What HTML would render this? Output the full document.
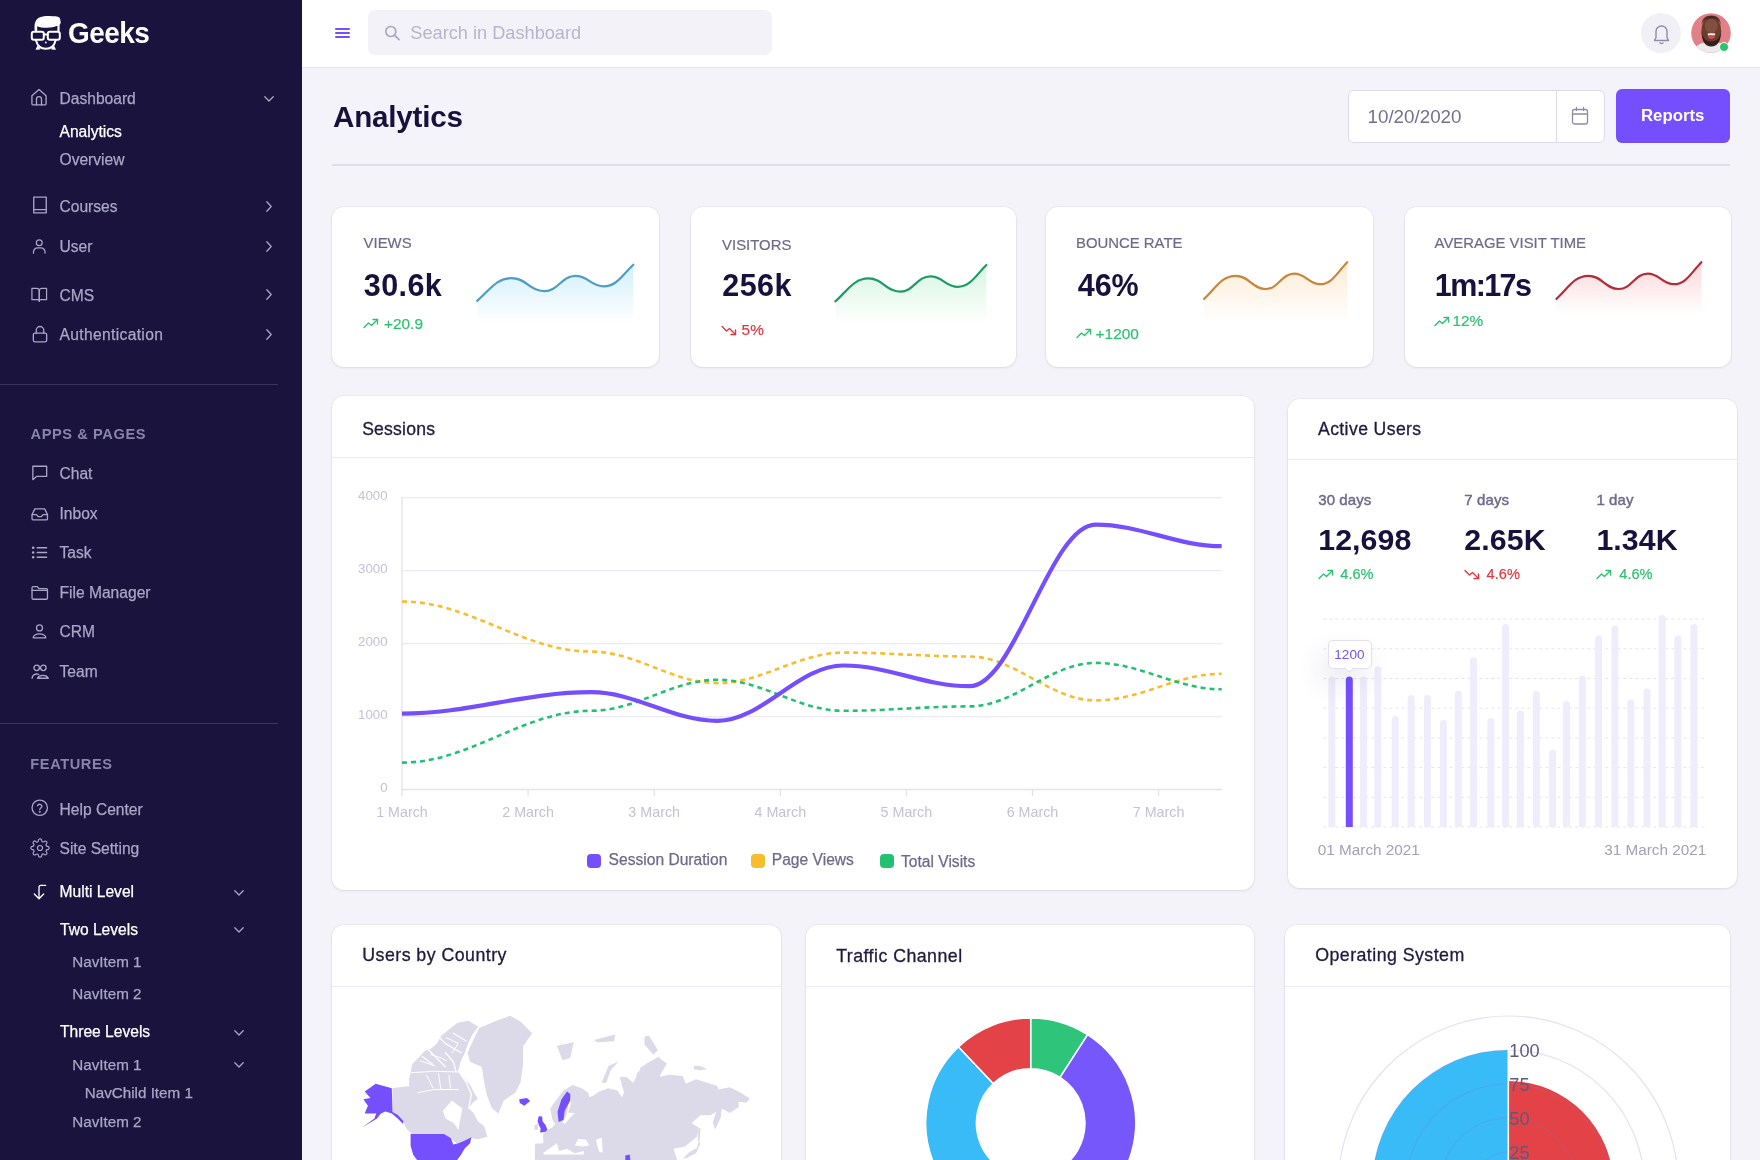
<!DOCTYPE html>
<html><head><meta charset="utf-8"><title>Geeks Analytics</title>
<style>
html,body{margin:0;padding:0;}
body{width:1760px;height:1160px;overflow:hidden;position:relative;background:#f4f3f9;font-family:"Liberation Sans",sans-serif;}
.t{position:absolute;white-space:nowrap;line-height:1;}
svg{display:block;}
</style></head><body>
<div id="main" style="position:absolute;left:0;top:0;width:1760px;height:1160px;overflow:hidden;will-change:transform;">
<div style="position:absolute;left:332.25px;top:924.80px;width:448.65px;height:275.20px;background:#fff;border-radius:12px;box-shadow:0 0 0 1px rgba(40,30,90,.045),0 1px 3px rgba(40,30,90,.08);"></div>
<div style="position:absolute;left:332.25px;top:985.60px;width:448.65px;height:1.00px;background:#eceaf4;"></div>
<div class="t" style="left:362.30px;top:946.83px;font-size:17.8px;color:#1f1a3e;font-weight:400;-webkit-text-stroke:0.3px #1f1a3e;letter-spacing:0.45px;">Users by Country</div>
<div style="position:absolute;left:805.80px;top:924.80px;width:447.80px;height:275.20px;background:#fff;border-radius:12px;box-shadow:0 0 0 1px rgba(40,30,90,.045),0 1px 3px rgba(40,30,90,.08);"></div>
<div style="position:absolute;left:805.80px;top:985.60px;width:447.80px;height:1.00px;background:#eceaf4;"></div>
<div class="t" style="left:836.20px;top:948.13px;font-size:17.8px;color:#1f1a3e;font-weight:400;-webkit-text-stroke:0.3px #1f1a3e;letter-spacing:0.45px;">Traffic Channel</div>
<div style="position:absolute;left:1285.30px;top:924.80px;width:444.60px;height:275.20px;background:#fff;border-radius:12px;box-shadow:0 0 0 1px rgba(40,30,90,.045),0 1px 3px rgba(40,30,90,.08);"></div>
<div style="position:absolute;left:1285.30px;top:985.60px;width:444.60px;height:1.00px;background:#eceaf4;"></div>
<div class="t" style="left:1315.20px;top:947.23px;font-size:17.8px;color:#1f1a3e;font-weight:400;-webkit-text-stroke:0.3px #1f1a3e;letter-spacing:0.45px;">Operating System</div>
<svg style="position:absolute;left:0;top:0;overflow:visible" width="1" height="1"><path d="M392.5,1088.2 L406.7,1086.3 L419.6,1088.9 L427.4,1092.7 L439.0,1094.0 L445.5,1092.7 L453.3,1087.6 L461.0,1086.3 L471.4,1090.2 L477.8,1097.9 L472.6,1103.1 L468.8,1108.3 L473.9,1113.4 L477.8,1121.2 L484.3,1126.4 L487.5,1136.7 L477.8,1139.3 L471.4,1138.0 L464.9,1141.9 L458.4,1144.5 L450.7,1139.3 L445.5,1134.1 L411.9,1134.1 L406.7,1128.9 L402.8,1121.2 L397.7,1114.7 L392.5,1112.1 Z" fill="#dcd9e8"/><path d="M410.7,1072.0 L412.3,1064.1 L418.6,1057.7 L424.2,1051.4 L431.4,1048.2 L436.9,1043.4 L440.9,1036.3 L446.5,1031.5 L457.6,1022.7 L468.8,1020.7 L478.3,1026.7 L472.7,1033.9 L468.0,1043.4 L464.8,1053.0 L460.8,1060.9 L458.4,1070.5 L462.4,1076.0 L471.1,1086.4 L477.5,1100.0 L409.1,1100.0 L409.1,1080.0 Z" fill="#dcd9e8"/><path d="M467.5,1052.7 L479.1,1028.1 L494.6,1021.6 L510.1,1015.8 L520.5,1021.6 L532.1,1033.3 L523.1,1046.2 L523.1,1064.3 L520.5,1082.4 L515.3,1092.7 L503.7,1100.5 L498.5,1113.4 L492.0,1108.3 L486.9,1095.3 L484.3,1082.4 L481.7,1066.9 L470.1,1061.7 Z" fill="#dcd9e8"/><path d="M442.9,1110.8 L452.0,1100.5 L458.4,1105.7 L462.3,1108.3 L461.0,1116.0 L459.7,1122.5 L458.4,1130.2 L454.5,1123.8 L445.5,1118.6 Z" fill="#fff"/><path d="M409.9,1072.8 L434.5,1071.3 L460.0,1072.0" fill="none" stroke="#fff" stroke-width="1.0" stroke-linecap="round" stroke-linejoin="round"/><path d="M417.8,1092.7 L434.5,1089.5 L458.4,1089.5" fill="none" stroke="#fff" stroke-width="1.0" stroke-linecap="round" stroke-linejoin="round"/><path d="M446.5,1037.8 L458.4,1043.4 L452.0,1053.0" fill="none" stroke="#fff" stroke-width="1.0" stroke-linecap="round" stroke-linejoin="round"/><path d="M430.6,1054.5 L440.9,1057.7 L446.5,1060.9" fill="none" stroke="#fff" stroke-width="1.0" stroke-linecap="round" stroke-linejoin="round"/><path d="M426.6,1075.2 L433.0,1088.0" fill="none" stroke="#fff" stroke-width="1.0" stroke-linecap="round" stroke-linejoin="round"/><path d="M438.5,1073.6 L440.9,1089.5" fill="none" stroke="#fff" stroke-width="1.0" stroke-linecap="round" stroke-linejoin="round"/><path d="M448.9,1075.2 L450.5,1088.0" fill="none" stroke="#fff" stroke-width="1.0" stroke-linecap="round" stroke-linejoin="round"/><path d="M420.2,1060.9 L434.5,1065.7" fill="none" stroke="#fff" stroke-width="1.0" stroke-linecap="round" stroke-linejoin="round"/><path d="M437.7,1035.9 L445.5,1043.6 L461.0,1052.7" fill="none" stroke="#fff" stroke-width="1.3" stroke-linecap="round" stroke-linejoin="round"/><path d="M427.4,1048.8 L435.2,1056.5 L445.5,1066.9" fill="none" stroke="#fff" stroke-width="1.3" stroke-linecap="round" stroke-linejoin="round"/><path d="M453.3,1033.3 L466.2,1041.0" fill="none" stroke="#fff" stroke-width="1.3" stroke-linecap="round" stroke-linejoin="round"/><path d="M458.4,1070.8 L466.2,1082.4 L471.4,1094.0 L468.8,1108.3" fill="none" stroke="#fff" stroke-width="1.3" stroke-linecap="round" stroke-linejoin="round"/><path d="M422.2,1056.5 L432.6,1064.3" fill="none" stroke="#fff" stroke-width="1.3" stroke-linecap="round" stroke-linejoin="round"/><path d="M445.5,1052.7 L453.3,1061.7 L455.8,1070.8" fill="none" stroke="#fff" stroke-width="1.3" stroke-linecap="round" stroke-linejoin="round"/><path d="M364.7,1091.4 L375.7,1083.7 L391.8,1088.2 L392.5,1112.1 L397.7,1114.7 L403.5,1121.2 L402.8,1123.8 L397.7,1118.6 L391.8,1113.4 L385.4,1111.5 L380.9,1113.4 L377.0,1118.6 L362.1,1127.6 L374.4,1118.6 L376.3,1113.4 L364.7,1113.4 L367.9,1105.7 L363.4,1099.2 L370.5,1097.9 Z" fill="#754ffe"/><path d="M519.2,1099.2 L526.9,1097.9 L530.2,1101.1 L524.4,1105.7 L519.8,1103.1 Z" fill="#754ffe"/><path d="M410.6,1134.1 L444.2,1134.1 L450.7,1138.0 L453.3,1144.5 L458.4,1143.2 L464.9,1140.6 L471.4,1137.3 L470.1,1143.2 L464.9,1148.3 L461.0,1154.8 L457.1,1160.0 L417.1,1160.0 L413.2,1154.8 L410.6,1145.7 Z" fill="#754ffe"/><path d="M535.0,1160.0 L535.0,1143.8 L543.4,1143.2 L542.9,1134.8 L546.8,1130.3 L552.4,1127.5 L555.2,1124.1 L552.4,1119.7 L550.2,1108.4 L555.8,1100.6 L563.6,1090.5 L572.6,1084.9 L581.6,1088.3 L588.3,1092.8 L589.4,1098.4 L584.9,1104.0 L582.7,1101.7 L588.3,1097.2 L592.8,1096.1 L599.5,1091.6 L608.4,1088.3 L617.4,1090.5 L621.9,1097.2 L624.1,1092.8 L619.7,1077.1 L626.4,1077.1 L633.1,1082.7 L635.3,1079.3 L637.6,1072.6 L646.6,1063.6 L660.0,1056.9 L660.0,1160.0 Z" fill="#dcd9e8"/><path d="M640.0,1068.1 L654.6,1059.1 L657.9,1056.9 L666.9,1063.6 L659.1,1077.1 L669.1,1074.8 L682.6,1075.9 L685.9,1083.8 L696.0,1079.3 L707.2,1082.7 L717.3,1086.0 L718.4,1089.4 L729.7,1087.2 L740.9,1092.8 L749.8,1098.4 L746.5,1102.8 L738.6,1101.7 L738.6,1107.3 L729.7,1112.9 L721.8,1108.4 L720.7,1117.4 L715.1,1129.7 L712.8,1121.9 L716.2,1111.8 L710.6,1115.2 L700.5,1115.2 L691.6,1123.0 L698.3,1127.5 L697.2,1136.5 L684.8,1146.6 L673.6,1148.8 L677.0,1160.0 L640.0,1160.0 Z" fill="#dcd9e8"/><path d="M682.6,1158.9 L689.3,1152.2 L697.2,1147.7 L698.3,1142.1 L700.5,1143.2 L696.0,1153.3 L687.1,1157.8 Z" fill="#dcd9e8"/><path d="M698.3,1127.5 L700.5,1128.6 L699.4,1142.1 L697.7,1140.9 Z" fill="#dcd9e8"/><path d="M644.5,1036.7 L649.0,1035.6 L657.9,1050.2 L653.4,1054.7 L644.5,1044.6 Z" fill="#dcd9e8"/><path d="M693.8,1065.9 L700.5,1065.9 L707.2,1069.2 L699.4,1070.3 L693.8,1069.2 Z" fill="#dcd9e8"/><path d="M601.7,1082.7 L608.4,1065.9 L618.5,1061.4 L610.7,1070.3 L606.2,1082.7 Z" fill="#dcd9e8"/><path d="M556.9,1045.7 L573.7,1042.3 L570.3,1058.0 L562.5,1060.3 Z" fill="#dcd9e8"/><path d="M593.9,1040.1 L615.2,1034.5 L614.1,1041.2 L597.2,1042.3 Z" fill="#dcd9e8"/><path d="M534.5,1125.3 L538.4,1124.1 L537.8,1129.7 L534.5,1129.7 Z" fill="#dcd9e8"/><path d="M568.7,1101.7 L570.6,1097.2 L571.2,1102.8 L568.1,1112.4 L574.8,1113.2 L571.5,1116.3 L564.7,1124.1 L562.5,1122.5 L567.0,1114.1 Z" fill="#fff"/><path d="M574.8,1145.4 L578.2,1138.7 L586.0,1139.8 L589.4,1145.4 L582.7,1146.6 Z" fill="#fff"/><path d="M596.1,1139.8 L601.7,1137.6 L602.8,1152.2 L599.5,1152.2 L597.2,1145.4 Z" fill="#fff"/><path d="M543.4,1152.7 L556.9,1143.2 L559.1,1151.0 L567.0,1148.8 L574.8,1153.3 L583.8,1151.0 L583.8,1154.6 L543.4,1154.6 Z" fill="#fff"/><path d="M538.7,1116.3 L542.1,1116.5 L542.6,1121.3 L545.7,1125.3 L547.4,1129.7 L545.1,1132.0 L540.1,1132.5 L540.6,1128.6 L539.0,1125.3 L537.6,1121.3 Z" fill="#754ffe"/><path d="M558.6,1121.9 L557.5,1111.8 L561.4,1099.5 L567.0,1091.6 L570.3,1093.9 L570.3,1100.6 L564.7,1110.7 L563.6,1119.7 Z" fill="#754ffe"/><path d="M625.3,1155.5 L629.7,1154.4 L630.3,1160.0 L625.3,1160.0 Z" fill="#754ffe"/></svg>
<svg style="position:absolute;left:0;top:0;overflow:visible" width="1" height="1"><path d="M1030.70,1018.00 A105,105 0 0 1 1087.58,1034.74 L1060.11,1077.36 A54.3,54.3 0 0 0 1030.70,1068.70 Z" fill="#2ec47a" stroke="#fff" stroke-width="1.5"/><path d="M1087.58,1034.74 A105,105 0 0 1 1030.70,1228.00 L1030.70,1177.30 A54.3,54.3 0 0 0 1060.11,1077.36 Z" fill="#7657fb" stroke="#fff" stroke-width="1.5"/><path d="M1030.70,1228.00 A105,105 0 0 1 958.42,1046.84 L993.32,1083.61 A54.3,54.3 0 0 0 1030.70,1177.30 Z" fill="#38bbf6" stroke="#fff" stroke-width="1.5"/><path d="M958.42,1046.84 A105,105 0 0 1 1030.70,1018.00 L1030.70,1068.70 A54.3,54.3 0 0 0 993.32,1083.61 Z" fill="#e34246" stroke="#fff" stroke-width="1.5"/></svg>
<svg style="position:absolute;left:0;top:0;overflow:visible" width="1" height="1"><path d="M1508.3,1186 L1372.30,1186.00 A136,136 0 0 1 1508.30,1050.00 Z" fill="#38bbf6"/><path d="M1508.3,1186 L1508.30,1081.00 A105,105 0 0 1 1613.30,1186.00 Z" fill="#e34246"/><circle cx="1508.3" cy="1186" r="34" fill="none" stroke="rgba(130,120,200,0.22)" stroke-width="1.2"/><circle cx="1508.3" cy="1186" r="68" fill="none" stroke="rgba(130,120,200,0.22)" stroke-width="1.2"/><circle cx="1508.3" cy="1186" r="102" fill="none" stroke="rgba(130,120,200,0.22)" stroke-width="1.2"/><circle cx="1508.3" cy="1186" r="136" fill="none" stroke="rgba(130,120,200,0.22)" stroke-width="1.2"/><circle cx="1508.3" cy="1186" r="170" fill="none" stroke="rgba(130,120,200,0.22)" stroke-width="1.2"/><path d="M1508.3,1186 V1040" stroke="#fff" stroke-width="1.6"/></svg>
<div class="t" style="left:1509.30px;top:1041.59px;font-size:18.2px;color:#5d5a7c;font-weight:400;">100</div>
<div class="t" style="left:1509.30px;top:1075.59px;font-size:18.2px;color:#5d5a7c;font-weight:400;">75</div>
<div class="t" style="left:1509.30px;top:1109.59px;font-size:18.2px;color:#5d5a7c;font-weight:400;">50</div>
<div class="t" style="left:1509.30px;top:1143.59px;font-size:18.2px;color:#5d5a7c;font-weight:400;">25</div>
<div style="position:absolute;left:332.30px;top:206.50px;width:326.70px;height:160.80px;background:#fff;border-radius:12px;box-shadow:0 0 0 1px rgba(40,30,90,.045),0 1px 3px rgba(40,30,90,.08);"></div>
<div class="t" style="left:363.60px;top:236.09px;font-size:14.9px;color:#6e6a8a;font-weight:400;-webkit-text-stroke:0.2px currentColor;">VIEWS</div>
<div class="t" style="left:363.80px;top:269.78px;font-size:30.5px;color:#18113c;font-weight:700;letter-spacing:0.4px;">30.6k</div>
<svg style="position:absolute;left:363.00px;top:318.40px;overflow:visible;" width="16.00" height="11.00" viewBox="0 0 16 11"><g fill="none" stroke="#2cc26f" stroke-width="1.4" stroke-linecap="round" stroke-linejoin="round"><path d="M1,9.5 L5.5,5 L8.5,7.5 L14.5,1.5"/><path d="M10,1.5 H14.5 V6"/></g></svg>
<div class="t" style="left:384.00px;top:315.86px;font-size:15.4px;color:#2cc26f;font-weight:400;-webkit-text-stroke:0.2px currentColor;">+20.9</div>
<svg style="position:absolute;left:0;top:0;overflow:visible" width="1" height="1"><defs><linearGradient id="sg0" gradientUnits="userSpaceOnUse" x1="0" y1="264.7" x2="0" y2="323.6"><stop offset="0" stop-color="#cdeefc" stop-opacity="0.9"/><stop offset="1" stop-color="#cdeefc" stop-opacity="0"/></linearGradient></defs>
<path d="M477.20,300.80 C489.22,290.85 496.09,278.06 511.54,278.06 C526.29,278.06 529.57,291.05 544.32,291.05 C558.37,291.05 561.49,275.89 575.54,275.89 C588.19,275.89 591.00,286.36 603.64,286.36 C616.99,286.36 622.92,274.18 633.30,264.70 L633.30,323.60 L477.20,323.60 Z" fill="url(#sg0)"/>
<path d="M477.20,300.80 C489.22,290.85 496.09,278.06 511.54,278.06 C526.29,278.06 529.57,291.05 544.32,291.05 C558.37,291.05 561.49,275.89 575.54,275.89 C588.19,275.89 591.00,286.36 603.64,286.36 C616.99,286.36 622.92,274.18 633.30,264.70" fill="none" stroke="#4d9dc5" stroke-width="2.2" stroke-linecap="round" stroke-linejoin="round"/></svg>
<div style="position:absolute;left:690.80px;top:206.50px;width:325.20px;height:160.80px;background:#fff;border-radius:12px;box-shadow:0 0 0 1px rgba(40,30,90,.045),0 1px 3px rgba(40,30,90,.08);"></div>
<div class="t" style="left:722.10px;top:237.59px;font-size:14.9px;color:#6e6a8a;font-weight:400;-webkit-text-stroke:0.2px currentColor;">VISITORS</div>
<div class="t" style="left:722.30px;top:269.78px;font-size:30.5px;color:#18113c;font-weight:700;letter-spacing:0.4px;">256k</div>
<svg style="position:absolute;left:721.30px;top:324.70px;overflow:visible;" width="16.00" height="11.00" viewBox="0 0 16 11"><g fill="none" stroke="#e0383e" stroke-width="1.4" stroke-linecap="round" stroke-linejoin="round"><path d="M1,1.5 L5.5,6 L8.5,3.5 L14.5,9.5"/><path d="M10,9.5 H14.5 V5"/></g></svg>
<div class="t" style="left:741.60px;top:322.16px;font-size:15.4px;color:#e0383e;font-weight:400;-webkit-text-stroke:0.2px currentColor;">5%</div>
<svg style="position:absolute;left:0;top:0;overflow:visible" width="1" height="1"><defs><linearGradient id="sg1" gradientUnits="userSpaceOnUse" x1="0" y1="265" x2="0" y2="323.6"><stop offset="0" stop-color="#d2f4de" stop-opacity="0.9"/><stop offset="1" stop-color="#d2f4de" stop-opacity="0"/></linearGradient></defs>
<path d="M835.30,301.40 C846.93,291.37 853.58,278.47 868.54,278.47 C882.82,278.47 885.99,291.57 900.27,291.57 C913.87,291.57 916.89,276.28 930.49,276.28 C942.73,276.28 945.45,286.84 957.69,286.84 C970.61,286.84 976.35,274.56 986.40,265.00 L986.40,323.60 L835.30,323.60 Z" fill="url(#sg1)"/>
<path d="M835.30,301.40 C846.93,291.37 853.58,278.47 868.54,278.47 C882.82,278.47 885.99,291.57 900.27,291.57 C913.87,291.57 916.89,276.28 930.49,276.28 C942.73,276.28 945.45,286.84 957.69,286.84 C970.61,286.84 976.35,274.56 986.40,265.00" fill="none" stroke="#1f9b6a" stroke-width="2.2" stroke-linecap="round" stroke-linejoin="round"/></svg>
<div style="position:absolute;left:1046.20px;top:206.50px;width:326.50px;height:160.80px;background:#fff;border-radius:12px;box-shadow:0 0 0 1px rgba(40,30,90,.045),0 1px 3px rgba(40,30,90,.08);"></div>
<div class="t" style="left:1076.00px;top:236.09px;font-size:14.9px;color:#6e6a8a;font-weight:400;-webkit-text-stroke:0.2px currentColor;">BOUNCE RATE</div>
<div class="t" style="left:1077.70px;top:269.78px;font-size:30.5px;color:#18113c;font-weight:700;letter-spacing:0;">46%</div>
<svg style="position:absolute;left:1075.70px;top:328.20px;overflow:visible;" width="16.00" height="11.00" viewBox="0 0 16 11"><g fill="none" stroke="#2cc26f" stroke-width="1.4" stroke-linecap="round" stroke-linejoin="round"><path d="M1,9.5 L5.5,5 L8.5,7.5 L14.5,1.5"/><path d="M10,1.5 H14.5 V6"/></g></svg>
<div class="t" style="left:1095.60px;top:325.66px;font-size:15.4px;color:#2cc26f;font-weight:400;-webkit-text-stroke:0.2px currentColor;">+1200</div>
<svg style="position:absolute;left:0;top:0;overflow:visible" width="1" height="1"><defs><linearGradient id="sg2" gradientUnits="userSpaceOnUse" x1="0" y1="262.2" x2="0" y2="322.7"><stop offset="0" stop-color="#fde9cf" stop-opacity="0.9"/><stop offset="1" stop-color="#fde9cf" stop-opacity="0"/></linearGradient></defs>
<path d="M1204.20,298.90 C1215.21,288.78 1221.50,275.78 1235.66,275.78 C1249.17,275.78 1252.18,288.99 1265.69,288.99 C1278.56,288.99 1281.42,273.58 1294.29,273.58 C1305.87,273.58 1308.45,284.22 1320.03,284.22 C1332.26,284.22 1337.69,271.83 1347.20,262.20 L1347.20,322.70 L1204.20,322.70 Z" fill="url(#sg2)"/>
<path d="M1204.20,298.90 C1215.21,288.78 1221.50,275.78 1235.66,275.78 C1249.17,275.78 1252.18,288.99 1265.69,288.99 C1278.56,288.99 1281.42,273.58 1294.29,273.58 C1305.87,273.58 1308.45,284.22 1320.03,284.22 C1332.26,284.22 1337.69,271.83 1347.20,262.20" fill="none" stroke="#c8863a" stroke-width="2.2" stroke-linecap="round" stroke-linejoin="round"/></svg>
<div style="position:absolute;left:1404.80px;top:206.50px;width:326.50px;height:160.80px;background:#fff;border-radius:12px;box-shadow:0 0 0 1px rgba(40,30,90,.045),0 1px 3px rgba(40,30,90,.08);"></div>
<div class="t" style="left:1434.60px;top:236.09px;font-size:14.9px;color:#6e6a8a;font-weight:400;-webkit-text-stroke:0.2px currentColor;">AVERAGE VISIT TIME</div>
<div class="t" style="left:1434.80px;top:269.78px;font-size:30.5px;color:#18113c;font-weight:700;letter-spacing:-1.6px;">1m:17s</div>
<svg style="position:absolute;left:1433.80px;top:316.00px;overflow:visible;" width="16.00" height="11.00" viewBox="0 0 16 11"><g fill="none" stroke="#2cc26f" stroke-width="1.4" stroke-linecap="round" stroke-linejoin="round"><path d="M1,9.5 L5.5,5 L8.5,7.5 L14.5,1.5"/><path d="M10,1.5 H14.5 V6"/></g></svg>
<div class="t" style="left:1452.50px;top:313.46px;font-size:15.4px;color:#2cc26f;font-weight:400;-webkit-text-stroke:0.2px currentColor;">12%</div>
<svg style="position:absolute;left:0;top:0;overflow:visible" width="1" height="1"><defs><linearGradient id="sg3" gradientUnits="userSpaceOnUse" x1="0" y1="262.2" x2="0" y2="314"><stop offset="0" stop-color="#fbd3d7" stop-opacity="0.9"/><stop offset="1" stop-color="#fbd3d7" stop-opacity="0"/></linearGradient></defs>
<path d="M1556.50,298.90 C1567.66,288.78 1574.03,275.78 1588.38,275.78 C1602.07,275.78 1605.11,288.99 1618.81,288.99 C1631.85,288.99 1634.75,273.58 1647.79,273.58 C1659.52,273.58 1662.13,284.22 1673.87,284.22 C1686.26,284.22 1691.76,271.83 1701.40,262.20 L1701.40,314.00 L1556.50,314.00 Z" fill="url(#sg3)"/>
<path d="M1556.50,298.90 C1567.66,288.78 1574.03,275.78 1588.38,275.78 C1602.07,275.78 1605.11,288.99 1618.81,288.99 C1631.85,288.99 1634.75,273.58 1647.79,273.58 C1659.52,273.58 1662.13,284.22 1673.87,284.22 C1686.26,284.22 1691.76,271.83 1701.40,262.20" fill="none" stroke="#b52b38" stroke-width="2.2" stroke-linecap="round" stroke-linejoin="round"/></svg>
<div style="position:absolute;left:331.80px;top:395.70px;width:922.70px;height:494.00px;background:#fff;border-radius:12px;box-shadow:0 0 0 1px rgba(40,30,90,.045),0 1px 3px rgba(40,30,90,.08);"></div>
<div style="position:absolute;left:331.80px;top:456.80px;width:922.70px;height:1.00px;background:#eceaf4;"></div>
<div class="t" style="left:362.20px;top:420.90px;font-size:17.6px;color:#1f1a3e;font-weight:400;-webkit-text-stroke:0.3px #1f1a3e;letter-spacing:0.2px;">Sessions</div>
<div class="t" style="right:1372.40px;top:489.04px;font-size:13.3px;color:#c4c1d6;font-weight:400;text-align:right;">4000</div>
<div class="t" style="right:1372.40px;top:562.04px;font-size:13.3px;color:#c4c1d6;font-weight:400;text-align:right;">3000</div>
<div class="t" style="right:1372.40px;top:634.94px;font-size:13.3px;color:#c4c1d6;font-weight:400;text-align:right;">2000</div>
<div class="t" style="right:1372.40px;top:707.94px;font-size:13.3px;color:#c4c1d6;font-weight:400;text-align:right;">1000</div>
<div class="t" style="right:1372.40px;top:780.94px;font-size:13.3px;color:#c4c1d6;font-weight:400;text-align:right;">0</div>
<svg style="position:absolute;left:0;top:0;overflow:visible" width="1" height="1"><path d="M402,497.7 H1222" stroke="#ecebf5" stroke-width="1.3"/><path d="M402,570.7 H1222" stroke="#ecebf5" stroke-width="1.3"/><path d="M402,643.6 H1222" stroke="#ecebf5" stroke-width="1.3"/><path d="M402,716.6 H1222" stroke="#ecebf5" stroke-width="1.3"/><path d="M402,789.6 H1222" stroke="#e4e2f0" stroke-width="1.5"/><path d="M402,497 V790" stroke="#e4e2f0" stroke-width="1.3"/><path d="M402.0,790 V796" stroke="#e4e2f0" stroke-width="1.3"/><path d="M528.1,790 V796" stroke="#e4e2f0" stroke-width="1.3"/><path d="M654.2,790 V796" stroke="#e4e2f0" stroke-width="1.3"/><path d="M780.3,790 V796" stroke="#e4e2f0" stroke-width="1.3"/><path d="M906.4,790 V796" stroke="#e4e2f0" stroke-width="1.3"/><path d="M1032.5,790 V796" stroke="#e4e2f0" stroke-width="1.3"/><path d="M1158.6,790 V796" stroke="#e4e2f0" stroke-width="1.3"/><path d="M402.00,601.50 C470.09,601.50 523.06,651.60 591.15,651.60 C636.55,651.60 671.85,683.10 717.25,683.10 C762.65,683.10 797.95,652.60 843.35,652.60 C888.75,652.60 924.05,656.50 969.45,656.50 C1014.85,656.50 1050.15,700.40 1095.55,700.40 C1140.95,700.40 1176.25,673.80 1221.65,673.80" fill="none" stroke="#f8bd2c" stroke-width="2.6" stroke-dasharray="5 4"/><path d="M402.00,762.60 C470.09,762.60 523.06,710.80 591.15,710.80 C636.55,710.80 671.85,679.80 717.25,679.80 C762.65,679.80 797.95,710.80 843.35,710.80 C888.75,710.80 924.05,706.40 969.45,706.40 C1014.85,706.40 1050.15,662.90 1095.55,662.90 C1140.95,662.90 1176.25,689.30 1221.65,689.30" fill="none" stroke="#22c172" stroke-width="2.6" stroke-dasharray="5 4"/><path d="M402.00,713.60 C470.09,713.60 523.06,692.20 591.15,692.20 C636.55,692.20 671.85,720.80 717.25,720.80 C762.65,720.80 797.95,665.50 843.35,665.50 C888.75,665.50 924.05,686.20 969.45,686.20 C1014.85,686.20 1050.15,524.60 1095.55,524.60 C1140.95,524.60 1176.25,546.20 1221.65,546.20" fill="none" stroke="#754ffe" stroke-width="4.2"/></svg>
<div class="t" style="left:302.00px;width:200px;top:804.80px;font-size:14.3px;color:#c4c1d6;font-weight:400;text-align:center;">1 March</div>
<div class="t" style="left:428.10px;width:200px;top:804.80px;font-size:14.3px;color:#c4c1d6;font-weight:400;text-align:center;">2 March</div>
<div class="t" style="left:554.20px;width:200px;top:804.80px;font-size:14.3px;color:#c4c1d6;font-weight:400;text-align:center;">3 March</div>
<div class="t" style="left:680.30px;width:200px;top:804.80px;font-size:14.3px;color:#c4c1d6;font-weight:400;text-align:center;">4 March</div>
<div class="t" style="left:806.40px;width:200px;top:804.80px;font-size:14.3px;color:#c4c1d6;font-weight:400;text-align:center;">5 March</div>
<div class="t" style="left:932.50px;width:200px;top:804.80px;font-size:14.3px;color:#c4c1d6;font-weight:400;text-align:center;">6 March</div>
<div class="t" style="left:1058.60px;width:200px;top:804.80px;font-size:14.3px;color:#c4c1d6;font-weight:400;text-align:center;">7 March</div>
<div style="position:absolute;left:587.10px;top:854.00px;width:14.00px;height:14.00px;background:#754ffe;border-radius:4px;"></div>
<div class="t" style="left:608.60px;top:852.29px;font-size:15.6px;color:#6e6a8a;font-weight:400;-webkit-text-stroke:0.25px currentColor;">Session Duration</div>
<div style="position:absolute;left:750.80px;top:854.00px;width:14.00px;height:14.00px;background:#f8bd2c;border-radius:4px;"></div>
<div class="t" style="left:771.80px;top:852.29px;font-size:15.6px;color:#6e6a8a;font-weight:400;-webkit-text-stroke:0.25px currentColor;">Page Views</div>
<div style="position:absolute;left:879.80px;top:854.00px;width:14.00px;height:14.00px;background:#22c172;border-radius:4px;"></div>
<div class="t" style="left:901.00px;top:853.59px;font-size:15.6px;color:#6e6a8a;font-weight:400;-webkit-text-stroke:0.25px currentColor;">Total Visits</div>
<div style="position:absolute;left:1288.10px;top:398.70px;width:449.10px;height:489.00px;background:#fff;border-radius:12px;box-shadow:0 0 0 1px rgba(40,30,90,.045),0 1px 3px rgba(40,30,90,.08);"></div>
<div style="position:absolute;left:1288.10px;top:458.80px;width:449.10px;height:1.00px;background:#eceaf4;"></div>
<div class="t" style="left:1318.00px;top:420.70px;font-size:17.6px;color:#1f1a3e;font-weight:400;-webkit-text-stroke:0.3px #1f1a3e;letter-spacing:0.4px;">Active Users</div>
<div class="t" style="left:1318.20px;top:492.00px;font-size:15px;color:#6e6a8a;font-weight:400;-webkit-text-stroke:0.45px currentColor;letter-spacing:0.1px;">30 days</div>
<div class="t" style="left:1318.20px;top:524.95px;font-size:30.3px;color:#18113c;font-weight:700;letter-spacing:0.1px;">12,698</div>
<svg style="position:absolute;left:1317.50px;top:569.00px;overflow:visible;" width="16.00" height="11.00" viewBox="0 0 16 11"><g fill="none" stroke="#2cc26f" stroke-width="1.4" stroke-linecap="round" stroke-linejoin="round"><path d="M1,9.5 L5.5,5 L8.5,7.5 L14.5,1.5"/><path d="M10,1.5 H14.5 V6"/></g></svg>
<div class="t" style="left:1340.30px;top:566.84px;font-size:14.6px;color:#2cc26f;font-weight:400;-webkit-text-stroke:0.2px currentColor;">4.6%</div>
<div class="t" style="left:1464.30px;top:492.00px;font-size:15px;color:#6e6a8a;font-weight:400;-webkit-text-stroke:0.45px currentColor;letter-spacing:0.1px;">7 days</div>
<div class="t" style="left:1464.30px;top:524.95px;font-size:30.3px;color:#18113c;font-weight:700;letter-spacing:0.1px;">2.65K</div>
<svg style="position:absolute;left:1463.60px;top:569.00px;overflow:visible;" width="16.00" height="11.00" viewBox="0 0 16 11"><g fill="none" stroke="#e0383e" stroke-width="1.4" stroke-linecap="round" stroke-linejoin="round"><path d="M1,1.5 L5.5,6 L8.5,3.5 L14.5,9.5"/><path d="M10,9.5 H14.5 V5"/></g></svg>
<div class="t" style="left:1486.60px;top:566.84px;font-size:14.6px;color:#e0383e;font-weight:400;-webkit-text-stroke:0.2px currentColor;">4.6%</div>
<div class="t" style="left:1596.40px;top:492.00px;font-size:15px;color:#6e6a8a;font-weight:400;-webkit-text-stroke:0.45px currentColor;letter-spacing:0.1px;">1 day</div>
<div class="t" style="left:1596.40px;top:524.95px;font-size:30.3px;color:#18113c;font-weight:700;letter-spacing:0.1px;">1.34K</div>
<svg style="position:absolute;left:1596.20px;top:569.00px;overflow:visible;" width="16.00" height="11.00" viewBox="0 0 16 11"><g fill="none" stroke="#2cc26f" stroke-width="1.4" stroke-linecap="round" stroke-linejoin="round"><path d="M1,9.5 L5.5,5 L8.5,7.5 L14.5,1.5"/><path d="M10,1.5 H14.5 V6"/></g></svg>
<div class="t" style="left:1619.30px;top:566.84px;font-size:14.6px;color:#2cc26f;font-weight:400;-webkit-text-stroke:0.2px currentColor;">4.6%</div>
<svg style="position:absolute;left:0;top:0;overflow:visible" width="1" height="1"><path d="M1323.3,619.1 H1707" stroke="#e6e4f2" stroke-width="1" stroke-dasharray="3 3"/><path d="M1323.3,648.8 H1707" stroke="#e6e4f2" stroke-width="1" stroke-dasharray="3 3"/><path d="M1323.3,678.5 H1707" stroke="#e6e4f2" stroke-width="1" stroke-dasharray="3 3"/><path d="M1323.3,708.2 H1707" stroke="#e6e4f2" stroke-width="1" stroke-dasharray="3 3"/><path d="M1323.3,737.9 H1707" stroke="#e6e4f2" stroke-width="1" stroke-dasharray="3 3"/><path d="M1323.3,767.6 H1707" stroke="#e6e4f2" stroke-width="1" stroke-dasharray="3 3"/><path d="M1323.3,797.3 H1707" stroke="#e6e4f2" stroke-width="1" stroke-dasharray="3 3"/><path d="M1323.3,827.0 H1707" stroke="#e6e4f2" stroke-width="1" stroke-dasharray="3 3"/><path d="M1328.40,827 V679.90 a3.5,3.5 0 0 1 7,0 V827 Z" fill="#efedfb"/><path d="M1345.80,827 V679.90 a3.5,3.5 0 0 1 7,0 V827 Z" fill="#754ffe"/><path d="M1360.10,827 V679.90 a3.5,3.5 0 0 1 7,0 V827 Z" fill="#efedfb"/><path d="M1374.40,827 V669.80 a3.5,3.5 0 0 1 7,0 V827 Z" fill="#efedfb"/><path d="M1391.80,827 V719.40 a3.5,3.5 0 0 1 7,0 V827 Z" fill="#efedfb"/><path d="M1407.70,827 V698.40 a3.5,3.5 0 0 1 7,0 V827 Z" fill="#efedfb"/><path d="M1423.90,827 V698.40 a3.5,3.5 0 0 1 7,0 V827 Z" fill="#efedfb"/><path d="M1440.00,827 V723.50 a3.5,3.5 0 0 1 7,0 V827 Z" fill="#efedfb"/><path d="M1454.80,827 V694.30 a3.5,3.5 0 0 1 7,0 V827 Z" fill="#efedfb"/><path d="M1470.00,827 V660.80 a3.5,3.5 0 0 1 7,0 V827 Z" fill="#efedfb"/><path d="M1487.40,827 V721.50 a3.5,3.5 0 0 1 7,0 V827 Z" fill="#efedfb"/><path d="M1502.10,827 V627.50 a3.5,3.5 0 0 1 7,0 V827 Z" fill="#efedfb"/><path d="M1516.90,827 V713.90 a3.5,3.5 0 0 1 7,0 V827 Z" fill="#efedfb"/><path d="M1532.90,827 V694.30 a3.5,3.5 0 0 1 7,0 V827 Z" fill="#efedfb"/><path d="M1549.10,827 V752.90 a3.5,3.5 0 0 1 7,0 V827 Z" fill="#efedfb"/><path d="M1563.00,827 V704.40 a3.5,3.5 0 0 1 7,0 V827 Z" fill="#efedfb"/><path d="M1578.80,827 V679.30 a3.5,3.5 0 0 1 7,0 V827 Z" fill="#efedfb"/><path d="M1595.10,827 V639.00 a3.5,3.5 0 0 1 7,0 V827 Z" fill="#efedfb"/><path d="M1611.40,827 V628.90 a3.5,3.5 0 0 1 7,0 V827 Z" fill="#efedfb"/><path d="M1627.40,827 V703.00 a3.5,3.5 0 0 1 7,0 V827 Z" fill="#efedfb"/><path d="M1643.50,827 V692.10 a3.5,3.5 0 0 1 7,0 V827 Z" fill="#efedfb"/><path d="M1658.60,827 V618.50 a3.5,3.5 0 0 1 7,0 V827 Z" fill="#efedfb"/><path d="M1674.40,827 V639.00 a3.5,3.5 0 0 1 7,0 V827 Z" fill="#efedfb"/><path d="M1690.50,827 V627.50 a3.5,3.5 0 0 1 7,0 V827 Z" fill="#efedfb"/></svg>
<div style="position:absolute;left:1327.50px;top:640.30px;width:44.00px;height:28.40px;background:#fff;border:1px solid #e1dff0;border-radius:5px;box-sizing:border-box;box-shadow:-6px 14px 28px rgba(40,30,90,.10);"></div>
<svg style="position:absolute;left:1344.30px;top:667.20px;overflow:visible;" width="10.00" height="6.00" viewBox="0 0 10 6"><path d="M0,0.5 L5,5 L10,0.5" fill="#fff" stroke="#e1dff0" stroke-width="1"/></svg>
<div class="t" style="left:1334.30px;top:648.49px;font-size:13.6px;color:#754ffe;font-weight:400;">1200</div>
<div class="t" style="left:1317.80px;top:842.05px;font-size:15.3px;color:#a3a0ba;font-weight:400;">01 March 2021</div>
<div class="t" style="right:53.70px;top:842.05px;font-size:15.3px;color:#a3a0ba;font-weight:400;text-align:right;">31 March 2021</div>
<div style="position:absolute;left:302.00px;top:0.00px;width:1458.00px;height:67.00px;background:#fff;"></div>
<div style="position:absolute;left:302.00px;top:67.00px;width:1458.00px;height:1.00px;background:#e6e4f1;"></div>
<div style="position:absolute;left:335.00px;top:28.00px;width:14.50px;height:2.00px;background:#754ffe;border-radius:1px;"></div>
<div style="position:absolute;left:335.00px;top:32.20px;width:14.50px;height:2.00px;background:#754ffe;border-radius:1px;"></div>
<div style="position:absolute;left:335.00px;top:36.40px;width:14.50px;height:2.00px;background:#754ffe;border-radius:1px;"></div>
<div style="position:absolute;left:368.00px;top:10.00px;width:404.00px;height:45.00px;background:#f3f2f8;border-radius:7px;"></div>
<svg style="position:absolute;left:384.00px;top:25.00px;overflow:visible;" width="18.00" height="18.00" viewBox="0 0 18 18"><g fill="none" stroke="#aaa6c2" stroke-width="1.7" stroke-linecap="round"><circle cx="6.8" cy="6.5" r="5"/><path d="M10.5,10.2 L15,14.7"/></g></svg>
<div class="t" style="left:410.30px;top:24.09px;font-size:18.2px;color:#b7b4cc;font-weight:400;">Search in Dashboard</div>
<div style="position:absolute;left:1641.00px;top:13.00px;width:40.00px;height:40.00px;background:#f1f0f7;border-radius:50%;"></div>
<svg style="position:absolute;left:1651.00px;top:22.00px;overflow:visible;" width="21.00" height="21.00" viewBox="0 0 21 21"><g fill="none" stroke="#8e8aa8" stroke-width="1.4" stroke-linecap="round" stroke-linejoin="round"><path d="M5,15.5 V9.5 a5.5,5.5 0 0 1 11,0 V15.5 L17.5,18.5 H3.5 Z"/><path d="M9,21 q1.5,1 3,0"/></g></svg>
<svg style="position:absolute;left:1690.50px;top:13.00px;overflow:visible;" width="40.00" height="40.00" viewBox="0 0 40 40"><defs><clipPath id="avc"><circle cx="20" cy="20" r="19.8"/></clipPath></defs>
<g clip-path="url(#avc)">
<rect width="40" height="40" fill="#e28087"/>
<path d="M1,42 C3,34 8,30.5 13.5,29.5 L27,29.5 C32,30.5 37,34 39,42 Z" fill="#ebebeb"/>
<ellipse cx="20.3" cy="17.5" rx="9.8" ry="14.5" fill="#6a3d2d"/>
<path d="M10.5,17 C10.5,28.5 14,33.5 20.3,33.5 C26.5,33.5 30.2,28.5 30.2,17 C29,25 26,28.5 20.3,28.5 C14.5,28.5 11.5,25 10.5,17 Z" fill="#34201a"/>
<ellipse cx="20.3" cy="13" rx="6.5" ry="7" fill="#946050" opacity=".55"/>
<path d="M10.6,12 C10.8,5 14.5,2.4 20.3,2.4 C26,2.4 29.6,5 29.9,12 C28.5,7 25,5.2 20.3,5.2 C15.5,5.2 12,7 10.6,12 Z" fill="#3a2219" opacity=".8"/>
<path d="M16.3,20.5 Q20.3,19.3 24.6,20.5 Q24.2,26 20.3,26 Q16.6,26 16.3,20.5 Z" fill="#c65058"/>
<path d="M16.8,20.6 Q20.3,19.7 24.1,20.6 L23.7,22.3 Q20.3,21.7 17.2,22.3 Z" fill="#f4f0ee"/>
</g></svg>
<div style="position:absolute;left:1718.8999999999999px;top:41.699999999999996px;width:10.4px;height:10.4px;border-radius:50%;background:#2dc26f;border:1.5px solid #fff;box-sizing:border-box;"></div>
<div class="t" style="left:333.00px;top:102.14px;font-size:29.6px;color:#18113c;font-weight:700;letter-spacing:-0.2px;">Analytics</div>
<div style="position:absolute;left:1347.50px;top:89.50px;width:257.50px;height:53.00px;background:#fff;border:1px solid #dcdae8;border-radius:6px;box-sizing:border-box;"></div>
<div style="position:absolute;left:1555.50px;top:90.00px;width:1.00px;height:52.00px;background:#dcdae8;"></div>
<div class="t" style="left:1367.50px;top:107.99px;font-size:18.8px;color:#74708f;font-weight:400;">10/20/2020</div>
<svg style="position:absolute;left:1570.00px;top:106.00px;overflow:visible;" width="20.00" height="20.00" viewBox="0 0 20 20"><g fill="none" stroke="#8e8aa8" stroke-width="1.3" stroke-linecap="round" stroke-linejoin="round"><rect x="2.5" y="3.5" width="15" height="14.5" rx="2"/><path d="M2.5,8 H17.5 M6.5,1.5 V4.5 M13.5,1.5 V4.5"/></g></svg>
<div style="position:absolute;left:1616.00px;top:88.60px;width:114.20px;height:54.60px;background:#754ffe;border-radius:6px;"></div>
<div class="t" style="left:1641.00px;top:108.48px;font-size:16.8px;color:#fff;font-weight:700;">Reports</div>
<div style="position:absolute;left:332.00px;top:164.30px;width:1397.50px;height:1.40px;background:#dfdde9;"></div>
<div style="position:absolute;left:0.00px;top:0.00px;width:302.00px;height:1160.00px;background:#19133e;"></div>
<svg style="position:absolute;left:30.00px;top:14.50px;overflow:visible;" width="32.00" height="35.00" viewBox="0 0 32 35"><path d="M4.8,16 C3.8,9.5 5.2,5 8.8,2.8 C12.5,0.6 18.5,0.6 22.5,1.3 C26.5,0.8 30.8,1.8 30.3,5.2 C31.2,6.8 30.6,8.8 29.6,10 L29.6,16 L27.4,16 L27.4,10.8 C24.5,11.8 21,12.8 17,12.8 C13,12.8 9.6,12.2 7.2,11.2 L7.2,16 Z" fill="#fff"/>
<g fill="none" stroke="#fff" stroke-width="2" stroke-linejoin="round" stroke-linecap="round">
<rect x="1.8" y="16.8" width="12" height="8" rx="2"/>
<rect x="17.8" y="16.8" width="12" height="8" rx="2"/>
<path d="M13.8,19.5 L17.8,19.5"/>
<path d="M6,25.5 C7.5,31 11.2,33.8 15.8,33.8 C20.4,33.8 24.2,31 25.6,25.5"/>
</g>
<path d="M7.5,30.5 L10.5,34.5 L5.5,34.8 Z M24,30.5 L21,34.5 L26,34.8 Z" fill="#fff"/>
<circle cx="15.8" cy="27.5" r="0.9" fill="#fff"/></svg>
<div class="t" style="left:68.00px;top:16.77px;font-size:30.4px;color:#ffffff;font-weight:700;letter-spacing:-0.6px;transform:scaleX(0.92);transform-origin:0 0;">Geeks</div>
<svg style="position:absolute;left:29.20px;top:87.30px;overflow:visible;" width="20.00" height="20.00" viewBox="0 0 24 24"><g fill="none" stroke="#aaa6c6" stroke-width="1.6" stroke-linecap="round" stroke-linejoin="round"><path d="M3.5,10.5 L12,3 L20.5,10.5 V20 a1.5,1.5 0 0 1 -1.5,1.5 H5 a1.5,1.5 0 0 1 -1.5,-1.5 Z"/><path d="M9,21.5 V14.5 a3,3 0 0 1 6,0 V21.5"/></g></svg>
<div class="t" style="left:59.50px;top:90.99px;font-size:15.6px;color:#aaa6c6;font-weight:400;-webkit-text-stroke:0.25px currentColor;">Dashboard</div>
<svg style="position:absolute;left:264.00px;top:95.50px;overflow:visible;" width="10.00" height="6.00" viewBox="0 0 10 6"><path d="M0.8,0.8 L5,5 L9.2,0.8" fill="none" stroke="#aaa6c6" stroke-width="1.3" stroke-linecap="round" stroke-linejoin="round"/></svg>
<div class="t" style="left:59.50px;top:123.99px;font-size:15.6px;color:#ffffff;font-weight:400;-webkit-text-stroke:0.25px #fff;">Analytics</div>
<div class="t" style="left:59.50px;top:151.79px;font-size:15.6px;color:#aaa6c6;font-weight:400;-webkit-text-stroke:0.25px currentColor;">Overview</div>
<svg style="position:absolute;left:30.00px;top:194.80px;overflow:visible;" width="20.00" height="20.00" viewBox="0 0 24 24"><g fill="none" stroke="#aaa6c6" stroke-width="1.6" stroke-linecap="round" stroke-linejoin="round"><path d="M4.5,2.5 H19.5 V21.5 H4.5 Z"/><path d="M4.5,17.5 H19.5"/></g></svg>
<div class="t" style="left:59.50px;top:199.09px;font-size:15.6px;color:#aaa6c6;font-weight:400;-webkit-text-stroke:0.25px currentColor;">Courses</div>
<svg style="position:absolute;left:265.50px;top:200.50px;overflow:visible;" width="6.00" height="11.00" viewBox="0 0 6 11"><path d="M0.8,0.8 L5.2,5.5 L0.8,10.2" fill="none" stroke="#aaa6c6" stroke-width="1.3" stroke-linecap="round" stroke-linejoin="round"/></svg>
<svg style="position:absolute;left:30.00px;top:237.00px;overflow:visible;" width="18.50" height="18.50" viewBox="0 0 24 24"><g fill="none" stroke="#aaa6c6" stroke-width="1.6" stroke-linecap="round" stroke-linejoin="round"><circle cx="12" cy="7.5" r="3.8"/><path d="M4.5,21 v-1.5 a5.5,5.5 0 0 1 5.5,-5.5 h4 a5.5,5.5 0 0 1 5.5,5.5 V21"/></g></svg>
<div class="t" style="left:59.50px;top:239.29px;font-size:15.6px;color:#aaa6c6;font-weight:400;-webkit-text-stroke:0.25px currentColor;">User</div>
<svg style="position:absolute;left:265.50px;top:241.00px;overflow:visible;" width="6.00" height="11.00" viewBox="0 0 6 11"><path d="M0.8,0.8 L5.2,5.5 L0.8,10.2" fill="none" stroke="#aaa6c6" stroke-width="1.3" stroke-linecap="round" stroke-linejoin="round"/></svg>
<svg style="position:absolute;left:30.00px;top:285.00px;overflow:visible;" width="18.50" height="18.50" viewBox="0 0 24 24"><g fill="none" stroke="#aaa6c6" stroke-width="1.6" stroke-linecap="round" stroke-linejoin="round"><path d="M2.5,4.5 H9 a3,3 0 0 1 3,3 V21 a2,2 0 0 0 -2,-2 H2.5 Z"/><path d="M21.5,4.5 H15 a3,3 0 0 0 -3,3 V21 a2,2 0 0 1 2,-2 H21.5 Z"/></g></svg>
<div class="t" style="left:59.50px;top:287.59px;font-size:15.6px;color:#aaa6c6;font-weight:400;-webkit-text-stroke:0.25px currentColor;">CMS</div>
<svg style="position:absolute;left:265.50px;top:289.00px;overflow:visible;" width="6.00" height="11.00" viewBox="0 0 6 11"><path d="M0.8,0.8 L5.2,5.5 L0.8,10.2" fill="none" stroke="#aaa6c6" stroke-width="1.3" stroke-linecap="round" stroke-linejoin="round"/></svg>
<svg style="position:absolute;left:29.50px;top:323.50px;overflow:visible;" width="20.00" height="20.00" viewBox="0 0 24 24"><g fill="none" stroke="#aaa6c6" stroke-width="1.6" stroke-linecap="round" stroke-linejoin="round"><rect x="4" y="11" width="16" height="10.5" rx="2"/><path d="M7.5,11 V7.5 a4.5,4.5 0 0 1 9,0 V11"/></g></svg>
<div class="t" style="left:59.50px;top:326.99px;font-size:15.6px;color:#aaa6c6;font-weight:400;-webkit-text-stroke:0.25px currentColor;letter-spacing:0.35px;">Authentication</div>
<svg style="position:absolute;left:265.50px;top:329.00px;overflow:visible;" width="6.00" height="11.00" viewBox="0 0 6 11"><path d="M0.8,0.8 L5.2,5.5 L0.8,10.2" fill="none" stroke="#aaa6c6" stroke-width="1.3" stroke-linecap="round" stroke-linejoin="round"/></svg>
<div style="position:absolute;left:0.00px;top:384.00px;width:277.50px;height:1.00px;background:#3a3560;"></div>
<div class="t" style="left:30.50px;top:427.14px;font-size:14.6px;color:#8985a8;font-weight:700;letter-spacing:0.6px;">APPS &amp; PAGES</div>
<svg style="position:absolute;left:29.50px;top:463.00px;overflow:visible;" width="19.50" height="19.50" viewBox="0 0 24 24"><g fill="none" stroke="#aaa6c6" stroke-width="1.6" stroke-linecap="round" stroke-linejoin="round"><path d="M3.5,4 H20.5 V16.5 H8 L3.5,20.5 Z"/></g></svg>
<div class="t" style="left:59.50px;top:465.79px;font-size:15.6px;color:#aaa6c6;font-weight:400;-webkit-text-stroke:0.25px currentColor;">Chat</div>
<svg style="position:absolute;left:30.00px;top:503.50px;overflow:visible;" width="19.50" height="19.50" viewBox="0 0 24 24"><g fill="none" stroke="#aaa6c6" stroke-width="1.6" stroke-linecap="round" stroke-linejoin="round"><path d="M2.5,13 L6,6 H18 L21.5,13 V18 a1.5,1.5 0 0 1 -1.5,1.5 H4 a1.5,1.5 0 0 1 -1.5,-1.5 Z"/><path d="M2.5,13 H8 L10,15.5 H14 L16,13 H21.5"/></g></svg>
<div class="t" style="left:59.50px;top:505.59px;font-size:15.6px;color:#aaa6c6;font-weight:400;-webkit-text-stroke:0.25px currentColor;">Inbox</div>
<svg style="position:absolute;left:30.00px;top:543.00px;overflow:visible;" width="19.00" height="19.00" viewBox="0 0 24 24"><g fill="none" stroke="#aaa6c6" stroke-width="1.6" stroke-linecap="round" stroke-linejoin="round"><path d="M9,6 H21 M9,12 H21 M9,18 H21"/><circle cx="4" cy="6" r="0.9"/><circle cx="4" cy="12" r="0.9"/><circle cx="4" cy="18" r="0.9"/></g></svg>
<div class="t" style="left:59.50px;top:545.29px;font-size:15.6px;color:#aaa6c6;font-weight:400;-webkit-text-stroke:0.25px currentColor;">Task</div>
<svg style="position:absolute;left:30.00px;top:582.50px;overflow:visible;" width="19.50" height="19.50" viewBox="0 0 24 24"><g fill="none" stroke="#aaa6c6" stroke-width="1.6" stroke-linecap="round" stroke-linejoin="round"><path d="M2.5,6 a1.5,1.5 0 0 1 1.5,-1.5 H9 L11,7 H20 a1.5,1.5 0 0 1 1.5,1.5 V18.5 a1.5,1.5 0 0 1 -1.5,1.5 H4 a1.5,1.5 0 0 1 -1.5,-1.5 Z"/><path d="M2.5,9 H21.5"/></g></svg>
<div class="t" style="left:59.50px;top:584.79px;font-size:15.6px;color:#aaa6c6;font-weight:400;-webkit-text-stroke:0.25px currentColor;">File Manager</div>
<svg style="position:absolute;left:30.00px;top:622.00px;overflow:visible;" width="19.00" height="19.00" viewBox="0 0 24 24"><g fill="none" stroke="#aaa6c6" stroke-width="1.6" stroke-linecap="round" stroke-linejoin="round"><circle cx="12" cy="7.5" r="3.8"/><path d="M4,20 a8,5 0 0 1 16,0 Z"/></g></svg>
<div class="t" style="left:59.50px;top:624.49px;font-size:15.6px;color:#aaa6c6;font-weight:400;-webkit-text-stroke:0.25px currentColor;">CRM</div>
<svg style="position:absolute;left:30.00px;top:661.50px;overflow:visible;" width="20.00" height="20.00" viewBox="0 0 24 24"><g fill="none" stroke="#aaa6c6" stroke-width="1.6" stroke-linecap="round" stroke-linejoin="round"><circle cx="8" cy="7" r="3.3"/><circle cx="16" cy="7" r="3.3"/><path d="M2.5,19.5 a5.5,5 0 0 1 8,-4.5"/><path d="M9,19.5 a7,5.5 0 0 1 13,0 Z"/></g></svg>
<div class="t" style="left:59.50px;top:664.09px;font-size:15.6px;color:#aaa6c6;font-weight:400;-webkit-text-stroke:0.25px currentColor;">Team</div>
<div style="position:absolute;left:0.00px;top:722.50px;width:277.50px;height:1.00px;background:#3a3560;"></div>
<div class="t" style="left:30.30px;top:757.34px;font-size:14.6px;color:#8985a8;font-weight:700;letter-spacing:0.6px;">FEATURES</div>
<svg style="position:absolute;left:29.50px;top:798.00px;overflow:visible;" width="19.50" height="19.50" viewBox="0 0 24 24"><g fill="none" stroke="#aaa6c6" stroke-width="1.6" stroke-linecap="round" stroke-linejoin="round"><circle cx="12" cy="12" r="9.5"/><path d="M9.3,9.5 a2.8,2.8 0 0 1 5.4,0.8 c0,1.8 -2.7,2.3 -2.7,3.9"/><circle cx="12" cy="17" r="0.5"/></g></svg>
<div class="t" style="left:59.50px;top:801.59px;font-size:15.6px;color:#aaa6c6;font-weight:400;-webkit-text-stroke:0.25px currentColor;">Help Center</div>
<svg style="position:absolute;left:29.50px;top:838.00px;overflow:visible;" width="20.00" height="20.00" viewBox="0 0 24 24"><g fill="none" stroke="#aaa6c6" stroke-width="1.4" stroke-linecap="round" stroke-linejoin="round"><circle cx="12" cy="12" r="3"/><path d="M19.4,15 a1.65,1.65 0 0 0 .33,1.82 l.06,.06 a2,2 0 1 1 -2.83,2.83 l-.06,-.06 a1.65,1.65 0 0 0 -1.82,-.33 a1.65,1.65 0 0 0 -1,1.51 V21 a2,2 0 1 1 -4,0 v-.09 A1.65,1.65 0 0 0 9,19.4 a1.65,1.65 0 0 0 -1.82,.33 l-.06,.06 a2,2 0 1 1 -2.83,-2.83 l.06,-.06 A1.65,1.65 0 0 0 4.68,15 a1.65,1.65 0 0 0 -1.51,-1 H3 a2,2 0 1 1 0,-4 h.09 A1.65,1.65 0 0 0 4.6,9 a1.65,1.65 0 0 0 -.33,-1.82 l-.06,-.06 a2,2 0 1 1 2.83,-2.83 l.06,.06 A1.65,1.65 0 0 0 9,4.68 a1.65,1.65 0 0 0 1,-1.51 V3 a2,2 0 1 1 4,0 v.09 a1.65,1.65 0 0 0 1,1.51 a1.65,1.65 0 0 0 1.82,-.33 l.06,-.06 a2,2 0 1 1 2.83,2.83 l-.06,.06 A1.65,1.65 0 0 0 19.4,9 a1.65,1.65 0 0 0 1.51,1 H21 a2,2 0 1 1 0,4 h-.09 a1.65,1.65 0 0 0 -1.51,1 Z"/></g></svg>
<div class="t" style="left:59.50px;top:841.09px;font-size:15.6px;color:#aaa6c6;font-weight:400;-webkit-text-stroke:0.25px currentColor;">Site Setting</div>
<svg style="position:absolute;left:31.00px;top:884.00px;overflow:visible;" width="16.00" height="16.00" viewBox="0 0 24 24"><g fill="none" stroke="#ffffff" stroke-width="2" stroke-linecap="round" stroke-linejoin="round"><path d="M22,2 H15 a3,3 0 0 0 -3,3 V22"/><path d="M5,15 L12,22 L19,15"/></g></svg>
<div class="t" style="left:59.50px;top:884.49px;font-size:15.6px;color:#ffffff;font-weight:400;-webkit-text-stroke:0.25px currentColor;">Multi Level</div>
<svg style="position:absolute;left:234.00px;top:889.50px;overflow:visible;" width="10.00" height="6.00" viewBox="0 0 10 6"><path d="M0.8,0.8 L5,5 L9.2,0.8" fill="none" stroke="#aaa6c6" stroke-width="1.3" stroke-linecap="round" stroke-linejoin="round"/></svg>
<div class="t" style="left:60.00px;top:921.59px;font-size:15.6px;color:#ffffff;font-weight:400;-webkit-text-stroke:0.25px currentColor;">Two Levels</div>
<svg style="position:absolute;left:234.00px;top:927.00px;overflow:visible;" width="10.00" height="6.00" viewBox="0 0 10 6"><path d="M0.8,0.8 L5,5 L9.2,0.8" fill="none" stroke="#aaa6c6" stroke-width="1.3" stroke-linecap="round" stroke-linejoin="round"/></svg>
<div class="t" style="left:72.30px;top:953.63px;font-size:15.2px;color:#aaa6c6;font-weight:400;-webkit-text-stroke:0.25px currentColor;">NavItem 1</div>
<div class="t" style="left:72.30px;top:985.63px;font-size:15.2px;color:#aaa6c6;font-weight:400;-webkit-text-stroke:0.25px currentColor;">NavItem 2</div>
<div class="t" style="left:60.00px;top:1024.39px;font-size:15.6px;color:#ffffff;font-weight:400;-webkit-text-stroke:0.25px currentColor;">Three Levels</div>
<svg style="position:absolute;left:234.00px;top:1029.50px;overflow:visible;" width="10.00" height="6.00" viewBox="0 0 10 6"><path d="M0.8,0.8 L5,5 L9.2,0.8" fill="none" stroke="#aaa6c6" stroke-width="1.3" stroke-linecap="round" stroke-linejoin="round"/></svg>
<div class="t" style="left:72.30px;top:1056.63px;font-size:15.2px;color:#aaa6c6;font-weight:400;-webkit-text-stroke:0.25px currentColor;">NavItem 1</div>
<svg style="position:absolute;left:234.00px;top:1061.50px;overflow:visible;" width="10.00" height="6.00" viewBox="0 0 10 6"><path d="M0.8,0.8 L5,5 L9.2,0.8" fill="none" stroke="#aaa6c6" stroke-width="1.3" stroke-linecap="round" stroke-linejoin="round"/></svg>
<div class="t" style="left:84.80px;top:1085.13px;font-size:15.2px;color:#aaa6c6;font-weight:400;-webkit-text-stroke:0.25px currentColor;">NavChild Item 1</div>
<div class="t" style="left:72.30px;top:1113.63px;font-size:15.2px;color:#aaa6c6;font-weight:400;-webkit-text-stroke:0.25px currentColor;">NavItem 2</div>

</div>
</body></html>
